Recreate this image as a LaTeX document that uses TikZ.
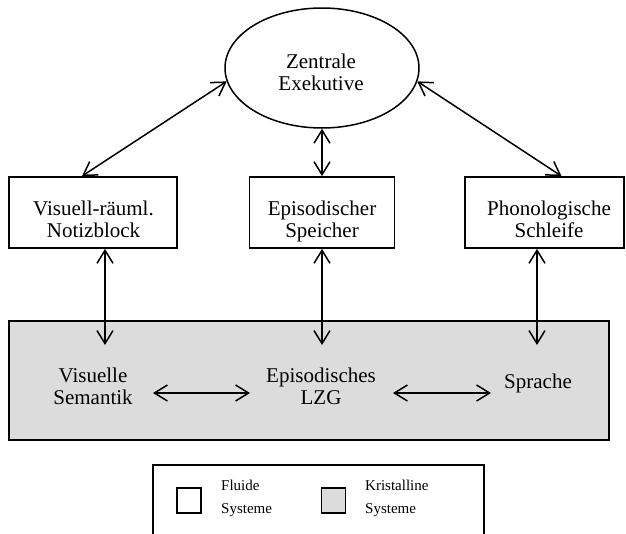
\documentclass[tikz,border=0pt]{standalone}
\usepackage{fontspec}
\setmainfont{Liberation Serif}
\usetikzlibrary{arrows.meta,calc,shapes.geometric}
\definecolor{ltmgray}{RGB}{220,220,220}
\tikzset{
  frame/.style={draw, line width=1.8pt, inner sep=0pt},
  lbl/.style={inner sep=0pt, align=center, font=\fontsize{21}{22}\selectfont},
  leg/.style={inner sep=0pt, align=left, anchor=west, font=\fontsize{15}{23}\selectfont},
  arr/.style={line width=1.5pt, >={Straight Barb[length=13pt,width=16pt]}, <->},
}
\begin{document}
\begin{tikzpicture}[x=1pt,y=-1pt]
\useasboundingbox (0,0) rectangle (626,533);
% central executive
\node[frame, line width=1.5pt, ellipse, minimum width=194pt, minimum height=120pt] (ze) at (322,68) {};
\node[lbl] (zet) at (321,74.6) {\strut Zentrale\\\strut Exekutive};
% fluid systems
\node[frame, minimum width=168pt, minimum height=71pt] (vsp) at (93,212.5) {};
\node[lbl] (vspt) at (93.5,221.6) {\strut Visuell-räuml.\\\strut Notizblock};
\node[frame, minimum width=145pt, minimum height=71pt] (ep) at (322,212.5) {};
\node[lbl] (ept) at (322,221.6) {\strut Episodischer\\\strut Speicher};
\node[frame, minimum width=159pt, minimum height=71pt] (ps) at (544.5,212.5) {};
\node[lbl] (pst) at (549,221.6) {\strut Phonologische\\\strut Schleife};
% crystalline systems
\node[frame, fill=ltmgray, minimum width=600pt, minimum height=119pt] (ltm) at (309,380.5) {};
\node[lbl] (vs) at (93,388.6) {\strut Visuelle\\\strut Semantik};
\node[lbl] (epl) at (321,388.6) {\strut Episodisches\\\strut LZG};
\node[lbl] (sp) at (538,383.6) {\strut Sprache};
% arrows
\draw[arr] (ze.188) -- ($(vsp.north)+(-11,0)$);
\draw[arr] (ze.352) -- ($(ps.north)+(17,0)$);
\draw[arr] (ze.south) -- (ep.north);
\coordinate (vsTop) at (105,345);
\coordinate (epTop) at (322,345);
\coordinate (spTop) at (537,345);
\draw[arr] ($(vsp.south)+(12,0)$) -- (vsTop);
\draw[arr] (ep.south) -- (epTop);
\draw[arr] ($(ps.south)+(-7.5,0)$) -- (spTop);
\coordinate (h1) at (153,393);
\coordinate (h2) at (250,393);
\coordinate (h3) at (393,393);
\coordinate (h4) at (491,393);
\draw[arr] (h1) -- (h2);
\draw[arr] (h3) -- (h4);
% legend
\draw[line width=1.8pt] (153,540) -- (153,465) -- (484,465) -- (484,540);
\node[frame, line width=1.5pt, minimum width=24pt, minimum height=25pt] (lf) at (189,500.5) {};
\node[leg] (lft) at (221,497.4) {\strut Fluide\\\strut Systeme};
\node[frame, line width=1.5pt, fill=ltmgray, minimum width=24pt, minimum height=25pt] (lk) at (333.5,500.5) {};
\node[leg] (lkt) at (365,497.4) {\strut Kristalline\\\strut Systeme};
\end{tikzpicture}
\end{document}
